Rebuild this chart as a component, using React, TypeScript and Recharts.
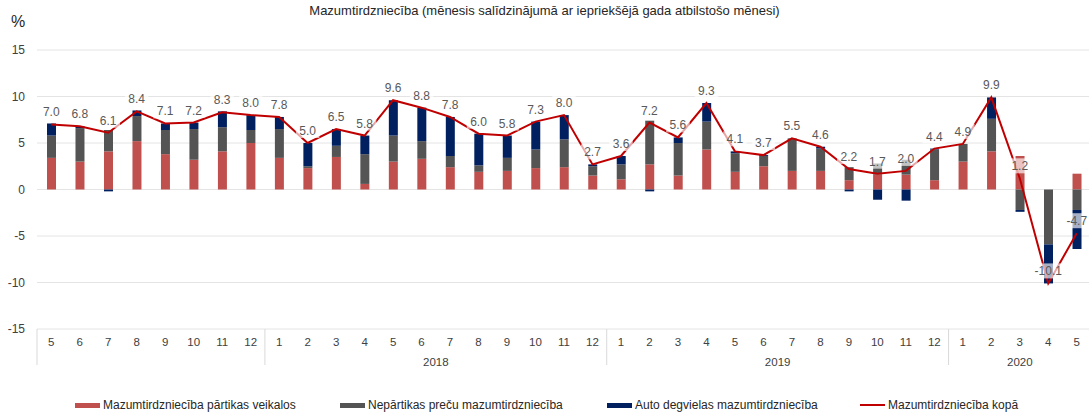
import React from 'react';
import {
  ComposedChart,
  Bar,
  Line,
  XAxis,
  YAxis,
  CartesianGrid,
  Legend,
} from 'recharts';

// Month of each category, 2017-5 .. 2020-5
const months = [
  5, 6, 7, 8, 9, 10, 11, 12,
  1, 2, 3, 4, 5, 6, 7, 8, 9, 10, 11, 12,
  1, 2, 3, 4, 5, 6, 7, 8, 9, 10, 11, 12,
  1, 2, 3, 4, 5,
];
const years = [
  2017, 2017, 2017, 2017, 2017, 2017, 2017, 2017,
  2018, 2018, 2018, 2018, 2018, 2018, 2018, 2018, 2018, 2018, 2018, 2018,
  2019, 2019, 2019, 2019, 2019, 2019, 2019, 2019, 2019, 2019, 2019, 2019,
  2020, 2020, 2020, 2020, 2020,
];
// years that get a label under the month ticks
const labelledYears = [2018, 2019, 2020];

// contributions, percentage points
const food = [
  3.4, 3.0, 4.1, 5.2, 3.8, 3.2, 4.1, 5.0,
  3.4, 2.3, 3.5, 0.6, 3.0, 3.3, 2.4, 1.9, 2.0, 2.3, 2.4, 1.5,
  1.1, 2.7, 1.5, 4.3, 1.9, 2.5, 2.0, 2.0, 1.0, 1.6, 1.6, 1.0,
  3.0, 4.1, 3.6, 0.0, 1.7,
];
const nonFood = [
  2.4, 3.6, 2.3, 2.7, 2.6, 3.3, 2.6, 1.4,
  3.1, 0.2, 1.2, 3.2, 2.8, 1.9, 1.2, 0.7, 1.4, 2.0, 3.0, 1.0,
  1.6, 4.7, 3.5, 3.0, 2.0, 1.1, 3.5, 2.4, 1.4, 1.2, 1.6, 3.3,
  1.9, 3.5, -2.2, -5.9, -2.2,
];
const fuel = [
  1.3, 0.2, -0.2, 0.6, 0.7, 0.7, 1.7, 1.6,
  1.3, 2.5, 1.8, 2.0, 3.8, 3.6, 4.2, 3.4, 2.4, 3.0, 2.6, 0.2,
  0.9, -0.2, 0.6, 2.0, 0.2, 0.1, 0.0, 0.2, -0.2, -1.1, -1.2, 0.1,
  0.0, 2.3, -0.2, -4.2, -4.2,
];
const total = [
  7.0, 6.8, 6.1, 8.4, 7.1, 7.2, 8.3, 8.0,
  7.8, 5.0, 6.5, 5.8, 9.6, 8.8, 7.8, 6.0, 5.8, 7.3, 8.0, 2.7,
  3.6, 7.2, 5.6, 9.3, 4.1, 3.7, 5.5, 4.6, 2.2, 1.7, 2.0, 4.4,
  4.9, 9.9, 1.2, -10.1, -4.7,
];
const yTicks = [-15, -10, -5, 0, 5, 10, 15];

const SERIES = [
  { key: 'food', name: 'Mazumtirdzniecība pārtikas veikalos', color: '#C0504D', kind: 'bar' },
  { key: 'nonFood', name: 'Nepārtikas preču mazumtirdzniecība', color: '#545454', kind: 'bar' },
  { key: 'fuel', name: 'Auto degvielas mazumtirdzniecība', color: '#002060', kind: 'bar' },
  { key: 'total', name: 'Mazumtirdzniecība kopā', color: '#C00000', kind: 'line' },
];
const LEGEND_LEFT = [75, 340, 607, 860];

const WIDTH = 1089;
const HEIGHT = 415;
const MARGIN = { top: 50, right: -2, left: 0, bottom: 46 };
const Y_WIDTH = 37;
const BAND = (WIDTH - MARGIN.left - MARGIN.right - Y_WIDTH) / months.length;
const FONT = '"Liberation Sans", Arial, sans-serif';

const data = months.map((m, i) => ({
  period: `${years[i]}-${m}`,
  food: food[i],
  nonFood: nonFood[i],
  fuel: fuel[i],
  total: total[i],
}));

// where each labelled year goes: tick index + offset inside the band
const yearPos = labelledYears.map((yr) => {
  const first = years.indexOf(yr);
  const last = years.lastIndexOf(yr);
  const mid = (first + last) / 2;
  return { yr, index: Math.ceil(mid), shift: Number.isInteger(mid) ? 0 : -BAND / 2 };
});
const groupStarts = years.map((yr, i) => (i === 0 || years[i - 1] !== yr ? i : -1)).filter((i) => i >= 0);

const MonthTick = (props: any) => {
  const { x, y, payload } = props;
  const i = payload.index;
  const yr = yearPos.find((p) => p.index === i);
  const top = y - 8;
  return (
    <g>
      <text x={x} y={y + 9} textAnchor="middle" fontSize={11.5} fill="#404040" fontFamily={FONT}>
        {months[i]}
      </text>
      {groupStarts.includes(i) && (
        <line x1={x - BAND / 2} x2={x - BAND / 2} y1={top} y2={top + 36} stroke="#d9d9d9" />
      )}
      {yr && (
        <text x={x + yr.shift} y={y + 29} textAnchor="middle" fontSize={11.5} fill="#404040" fontFamily={FONT}>
          {yr.yr}
        </text>
      )}
    </g>
  );
};

const TotalLabel = (props: any) => {
  const { x, y, value } = props;
  if (value == null) return null;
  const txt = Number(value).toFixed(1);
  const w = txt.length * 6.5 + 4;
  return (
    <g>
      <rect x={x - w / 2} y={y - 20} width={w} height={15} fill="#ffffff" fillOpacity={0.65} />
      <text x={x} y={y - 8} textAnchor="middle" fontSize={12} fill="#595959" fontFamily={FONT}>
        {txt}
      </text>
    </g>
  );
};

const LegendContent = () => (
  <div style={{ position: 'relative', height: 18, fontFamily: FONT, fontSize: 12, color: '#262626' }}>
    {SERIES.map((s, i) => (
      <div
        key={s.key}
        style={{ position: 'absolute', left: LEGEND_LEFT[i], top: 0, display: 'flex', alignItems: 'center', height: 18, whiteSpace: 'nowrap' }}
      >
        <span
          style={{
            display: 'inline-block',
            width: 25,
            height: s.kind === 'line' ? 2 : 5,
            background: s.color,
            marginRight: 3,
          }}
        />
        {s.name}
      </div>
    ))}
  </div>
);

export default function App() {
  return (
    <div style={{ position: 'absolute', left: 0, top: 0, width: WIDTH, height: HEIGHT, background: '#fff', fontFamily: FONT }}>
      <div style={{ position: 'absolute', left: 0, top: 3, width: WIDTH, textAlign: 'center', fontSize: 13, color: '#262626' }}>
        Mazumtirdzniecība (mēnesis salīdzinājumā ar iepriekšējā gada atbilstošo mēnesi)
      </div>
      <div style={{ position: 'absolute', left: 11, top: 13, fontSize: 16, color: '#262626' }}>%</div>
      <ComposedChart width={WIDTH} height={HEIGHT} data={data} margin={MARGIN} stackOffset="sign" barCategoryGap={0}>
        <CartesianGrid vertical={false} stroke="#e4e4e4" />
        <XAxis
          dataKey="period"
          interval={0}
          axisLine={false}
          tickLine={false}
          height={40}
          tick={<MonthTick />}
        />
        <YAxis
          width={Y_WIDTH}
          domain={[-15, 15]}
          ticks={yTicks}
          axisLine={false}
          tickLine={false}
          tickMargin={6}
          tick={{ fontSize: 12, fill: '#404040', fontFamily: FONT }}
        />
        {SERIES.filter((s) => s.kind === 'bar').map((s) => (
          <Bar key={s.key} dataKey={s.key} name={s.name} stackId="a" fill={s.color} barSize={9} isAnimationActive={false} />
        ))}
        <Line
          dataKey="total"
          name="Mazumtirdzniecība kopā"
          stroke="#C00000"
          strokeWidth={2}
          dot={false}
          activeDot={false}
          isAnimationActive={false}
          label={<TotalLabel />}
        />
        <Legend
          layout="horizontal"
          verticalAlign="middle"
          align="center"
          content={<LegendContent />}
          wrapperStyle={{ top: 396, left: 0, width: WIDTH, height: 18 }}
        />
      </ComposedChart>
    </div>
  );
}
